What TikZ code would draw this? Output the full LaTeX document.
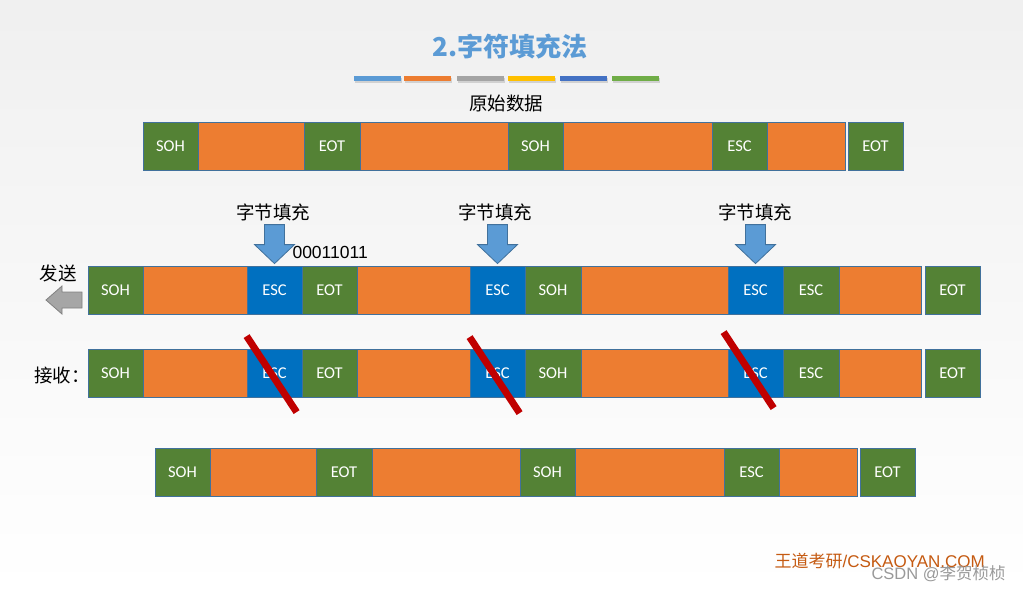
\documentclass[tikz,border=0pt]{standalone}
\usepackage{fontspec}
\setmainfont{Carlito}
\newfontfamily\cjk{Noto Sans CJK SC}
\newfontfamily\arial{Liberation Sans}
\definecolor{ctlgreen}{HTML}{548235}
\definecolor{datorange}{HTML}{ED7D31}
\definecolor{stfblue}{HTML}{0070C0}
\definecolor{edgeblue}{HTML}{41719C}
\definecolor{arrblue}{HTML}{5B9BD5}
\definecolor{slashred}{HTML}{C00000}
\definecolor{brandred}{HTML}{C55A11}
\definecolor{barA}{HTML}{5B9BD5}
\definecolor{barB}{HTML}{ED7D31}
\definecolor{barC}{HTML}{A5A5A5}
\definecolor{barD}{HTML}{FFC000}
\definecolor{barE}{HTML}{4472C4}
\definecolor{barF}{HTML}{70AD47}
\tikzset{
  box/.style={draw=edgeblue,line width=0.8pt,minimum height=48pt,inner sep=0pt,
    text=white,font=\fontsize{16.5}{19}\selectfont},
  ctl/.style={box,fill=ctlgreen},
  dat/.style={box,fill=datorange},
  stf/.style={box,fill=stfblue},
  cjklab/.style={font=\cjk\fontsize{18.5}{22}\selectfont},
  blockarr/.style={draw=edgeblue,fill=arrblue,line width=0.8pt,line join=miter},
  slash/.style={draw=slashred,line width=7pt}
}
\begin{document}
\begin{tikzpicture}[x=1pt,y=-1pt]
\useasboundingbox (0,0) rectangle (1023,591);
\shade[top color=black!6,bottom color=white] (0,0) rectangle (1023,591);
% title and colour bars
\node[text=arrblue,font=\cjk\bfseries\fontsize{26}{30}\selectfont] (title) at (510,47) {2.字符填充法};
\foreach \xa/\c in {354/barA,404/barB,457/barC,508/barD,560/barE,612/barF}{
  \fill[black!18] (\xa+1,78) rectangle (\xa+48,83);
  \fill[\c] (\xa,76) rectangle (\xa+47,81);
}
\node[cjklab] (orig) at (506,103) {原始数据};
% original frame and received frame
\foreach \a/\b/\k/\t [count=\i] in {143/198/ctl/SOH,198/304/dat/{},304/360/ctl/EOT,360/508/dat/{},
    508/563/ctl/SOH,563/712/dat/{},712/767/ctl/ESC,767/845/dat/{},848/903/ctl/EOT}{
  \pgfmathsetmacro\w{\b-\a}
  \node[\k,minimum width=\w pt] (r1-\i) at ({(\a+\b)/2},146) {\t};
  \node[\k,minimum width=\w pt] (r4-\i) at ({(\a+\b)/2+12},472) {\t};
}
% stuffed frame, sent and received
\foreach \a/\b/\k/\t [count=\i] in {88/143/ctl/SOH,143/247/dat/{},247/302/stf/ESC,302/357/ctl/EOT,
    357/470/dat/{},470/525/stf/ESC,525/581/ctl/SOH,581/728/dat/{},728/783/stf/ESC,
    783/839/ctl/ESC,839/921/dat/{},925/980/ctl/EOT}{
  \pgfmathsetmacro\w{\b-\a}
  \node[\k,minimum width=\w pt] (r2-\i) at ({(\a+\b)/2},290) {\t};
  \node[\k,minimum width=\w pt] (r3-\i) at ({(\a+\b)/2},373.5) {\t};
}
% byte stuffing arrows
\foreach \n/\xx in {3/273,6/495,9/755}{
  \node[cjklab] (fill-\n) at (\xx,212) {字节填充};
  \draw[blockarr] (r2-\n.north) ++(0,-2) -- ++(-20,-19) -- ++(10,0) -- ++(0,-20)
    -- ++(20,0) -- ++(0,20) -- ++(10,0) -- cycle;
}
\node[anchor=west,font=\arial\fontsize{17.5}{20}\selectfont] (bits) at (289,252) {00011011};
% send / receive
\node[cjklab] (send) at (58,273) {发送};
\draw[draw=black!50,fill=black!35,line width=0.8pt] (82,292) -- (62,292) -- (62,286) -- (46,300)
  -- (62,314) -- (62,308) -- (82,308) -- cycle;
\node[cjklab] (recv) at (62,375) {接收：};
\foreach \n/\dx/\dy in {3/0/-13,6/0/-12,9/-4/-17}{
  \draw[slash] (r3-\n.north west) ++(\dx,\dy) -- ++(50,76);
}
% footer
\node[anchor=west,text=brandred,font=\arial\fontsize{17}{20}\selectfont] (brand) at (771,561) {{\cjk 王道考研}/CSKAOYAN.COM};
\node[anchor=west,text=black!40,font=\arial\fontsize{16.5}{20}\selectfont] (mark) at (868,574) {CSDN @{\cjk 李贺桢桢}};
\end{tikzpicture}
\end{document}
